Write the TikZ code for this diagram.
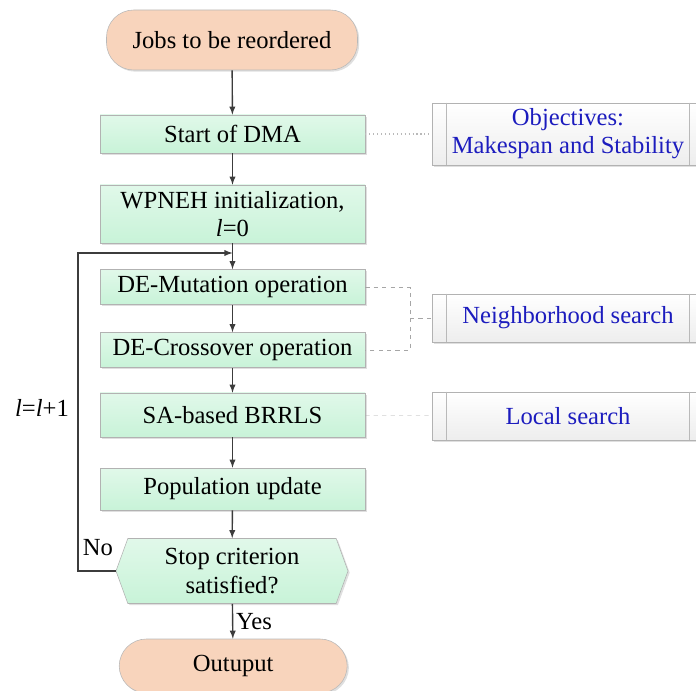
\documentclass[tikz,border=0pt]{standalone}
\usepackage{fontspec}
\setmainfont{Liberation Serif}
\usetikzlibrary{shapes.symbols,shadows}
\definecolor{boxgreen}{RGB}{200,243,216}
\definecolor{peach}{RGB}{248,212,188}
\definecolor{textblue}{RGB}{28,28,190}
\definecolor{linegray}{RGB}{60,60,60}

\tikzset{
  every node/.style={font=\fontsize{17.5}{20}\selectfont},
  myshadow/.style={drop shadow={opacity=0.25,shadow xshift=1.2pt,shadow yshift=-1.2pt}},
  procbox/.style={draw=gray!60, top color=boxgreen!55, bottom color=boxgreen,
    minimum width=6.625cm, align=center, inner sep=1pt, myshadow},
  termbox/.style={draw=gray!55, fill=peach, rounded corners=0.68cm, myshadow},
  sidebox/.style={draw=gray!60, top color=white, bottom color=gray!14,
    minimum width=6.8cm, align=center, text=textblue, myshadow},
  flow/.style={-latex, linegray, line width=1pt},
  linkline/.style={gray!70, dashed, very thin}
}

\begin{document}
\begin{tikzpicture}
\useasboundingbox (0,0) rectangle (17.4,17.25);

% main column
\node[termbox, minimum width=6.275cm, minimum height=1.5cm] (jobs) at (5.8,16.25) {Jobs to be reordered};
\node[procbox, minimum height=0.95cm] (dma) at (5.8125,13.9) {Start of DMA};
\node[procbox, minimum height=1.45cm] (wpneh) at (5.8125,11.9) {WPNEH initialization,\\\textit{l}=0};
\node[procbox, minimum height=0.875cm] (mut) at (5.8125,10.075) {DE-Mutation operation};
\node[procbox, minimum height=0.875cm] (cross) at (5.8125,8.5) {DE-Crossover operation};
\node[procbox, minimum height=1.1cm] (sa) at (5.8125,6.875) {SA-based BRRLS};
\node[procbox, minimum height=1.05cm] (pop) at (5.8125,5.025) {Population update};
\node[shape=signal, signal to=west and east, signal pointer angle=140,
  draw=gray!60, top color=boxgreen!55, bottom color=boxgreen, myshadow,
  minimum width=5.8cm, minimum height=1.625cm, align=center, inner sep=1pt] (stop) at (5.8,2.975) {Stop criterion\\satisfied?};
\node[termbox, minimum width=5.7cm, minimum height=1.35cm] (out) at (5.83,0.6) {Outuput};

% side boxes
\node[sidebox, minimum height=1.55cm] (obj) at (14.2,13.9) {Objectives:\\Makespan and Stability};
\node[sidebox, minimum height=1.2cm] (neigh) at (14.2,9.3) {Neighborhood search};
\node[sidebox, minimum height=1.2cm] (local) at (14.2,6.85) {Local search};
\foreach \b in {obj,neigh,local} {
  \draw[gray!55] ([xshift=0.37cm]\b.north west) -- ([xshift=0.37cm]\b.south west);
  \draw[gray!55] ([xshift=-0.37cm]\b.north east) -- ([xshift=-0.37cm]\b.south east);
}

% arrows
\draw[flow] (jobs) -- (dma);
\draw[flow] (dma) -- (wpneh);
\draw[flow] (wpneh) -- (mut);
\draw[flow] (mut) -- (cross);
\draw[flow] (cross) -- (sa);
\draw[flow] (sa) -- (pop);
\draw[flow] (pop) -- (stop);
\draw[flow] (stop) -- node[right, inner sep=2pt, text=black] {Yes} (out);

% loop back
\coordinate (loopc) at (1.95,10.925);
\coordinate (join) at (5.8125,10.925);
\draw[flow] (stop.west) -| (loopc) -- (join);
\node (no) at (2.45,3.55) {No};
\node (incr) at (1.05,7.05) {\textit{l}=\textit{l}+1};

% links to side boxes
\coordinate (brk) at (10.25,9.3);
\draw[gray!55, dotted, thick] (dma) -- (obj);
\draw[linkline] (mut.east) -| (brk) |- (cross.east);
\draw[linkline] (brk) -- (neigh);
\draw[linkline] (sa) -- (local);

\end{tikzpicture}
\end{document}
